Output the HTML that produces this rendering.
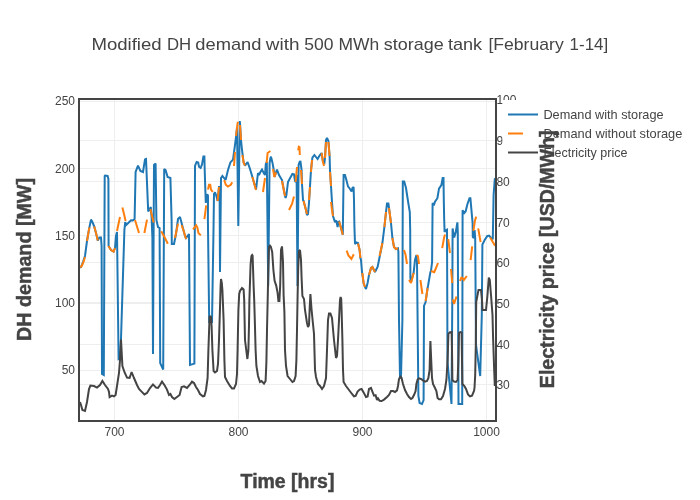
<!DOCTYPE html>
<html><head><meta charset="utf-8"><title>Chart</title>
<style>
html,body{margin:0;padding:0;background:#fff;width:700px;height:500px;overflow:hidden}
svg{display:block;will-change:transform}
text{font-family:"Liberation Sans",sans-serif;fill:#444}
.tick{font-size:12px}
.grid line{stroke:#eee;stroke-width:1;shape-rendering:crispEdges}
.axt{font-weight:bold;font-size:19.5px;stroke:#444;stroke-width:0.45px}
.leg{font-size:12.1px}
</style></head><body>
<svg width="700" height="500" viewBox="0 0 700 500">
<rect width="700" height="500" fill="#fff"/>
<defs><clipPath id="cp"><rect x="80" y="100" width="415" height="320"/></clipPath></defs>
<!-- gridlines -->
<g class="grid" id="grid">
<line x1="114.5" x2="114.5" y1="100" y2="420"/>
<line x1="238.5" x2="238.5" y1="100" y2="420"/>
<line x1="362.5" x2="362.5" y1="100" y2="420"/>
<line x1="486.5" x2="486.5" y1="100" y2="420"/>
<line x1="80" x2="496" y1="101.5" y2="101.5"/>
<line x1="80" x2="496" y1="168.5" y2="168.5"/>
<line x1="80" x2="496" y1="235.5" y2="235.5"/>
<line x1="80" x2="496" y1="302.5" y2="302.5"/>
<line x1="80" x2="496" y1="370.5" y2="370.5"/>
<line x1="80" x2="496" y1="140.5" y2="140.5"/>
<line x1="80" x2="496" y1="181.5" y2="181.5"/>
<line x1="80" x2="496" y1="222.5" y2="222.5"/>
<line x1="80" x2="496" y1="262.5" y2="262.5"/>
<line x1="80" x2="496" y1="303.5" y2="303.5"/>
<line x1="80" x2="496" y1="344.5" y2="344.5"/>
<line x1="80" x2="496" y1="384.5" y2="384.5"/>
</g>
<!-- traces -->
<g id="traces" fill="none" stroke-miterlimit="2" stroke-linecap="butt" clip-path="url(#cp)">
<path id="blue" stroke="#1f77b4" stroke-width="2" d="M80,267.5 L81,267 L83,262 L85,256 L87,241 L88.2,234 L89.4,227.4 L91,219.6 L92.4,222 L94.2,226.4 L96,233 L97.8,240.4 L99.4,237.6 L101,237.6 L101.6,246 L102,374 L103.8,375 L104.7,176 L105,175.6 L107.6,176 L108.4,179 L108.6,246 L111,250 L113.6,251.6 L115,248 L116,236 L117,232 L118.6,359 L120.4,358 L124.4,230 L125.2,222 L126.2,225 L128,223.2 L131,220.2 L132.8,220.4 L134.6,219 L135.6,172 L138,165.6 L140.4,171 L143,172 L145,159.4 L146,159 L148.2,211.5 L150.8,207 L151.6,218 L152.4,238 L153,354 L153.6,238 L154,165 L155.6,163.6 L156.4,220 L158,227 L159.6,228 L160.2,363 L163.2,369.6 L164.2,169 L165.6,170 L167.6,177 L170.4,178 L171.6,220 L171.8,244 L174,244 L176,234 L178,219 L180,217 L182.4,226 L185,236 L186,238 L189,234 L190,365 L194.4,363.6 L195,166 L196.6,162 L198.2,162.6 L199,166.8 L200.6,168 L202,164.4 L203.4,156.6 L204.4,156.6 L204.7,170 L205.4,192 L205.8,203 L206.6,195.6 L207.4,194.4 L208,196 L207.9,220 L209.2,322 L212,322 L213.5,230 L214,194 L215,192.4 L216.4,196 L217.6,201 L219,187 L219.6,187 L220,272 L221,178 L222.4,176 L225.6,180 L228,170 L230.4,162.4 L233,159.6 L235,145 L236,137 L237,128 L238.3,226 L239.8,121 L240.2,126 L241,140 L242,150 L243.6,162.4 L245,165.6 L247.6,162 L250,169 L252.4,177 L256,189.6 L258,173 L259,175 L260.4,172 L262,169.6 L264,173.6 L265,175 L265.8,164 L266.8,162 L268.2,286 L269.6,163 L270.4,158 L271,156.8 L272.4,162.4 L273.6,169 L274.6,177 L276,172.4 L277,169.6 L279,175 L282,180 L285,196 L285.6,198 L286.4,195 L288,182 L290.4,177.6 L292.4,174 L294,174.4 L295,181 L295.6,182 L296.6,175 L297.5,286 L298.6,165 L299.6,162 L300.4,161 L301.6,170 L302,184 L303,200 L303.6,201 L306,210 L307,215 L308,214 L309,203 L310,186 L311,170 L312.4,157.6 L314.4,155 L317.6,159 L319.6,155.6 L321.6,153 L323,162 L324.4,163 L325,158 L326,140 L327,138 L328.4,141 L329.6,156 L330,170 L331,186 L332,202 L333,216 L335,222.2 L336.2,220.4 L337.6,227 L338.4,222 L339.2,221.6 L341,228 L342.8,234.8 L343.6,175 L345,175 L346.4,180 L348,186.4 L350,189 L351.6,191.6 L352.4,188 L353.6,187 L354,200 L354.4,226 L355,244 L356.4,242.4 L358,243 L359.6,250 L360.4,258 L361,260 L362,272 L363.6,283 L365,287 L366,289 L367.6,283 L369,275 L371,268 L372.4,267 L375,272 L376,270 L377.6,267 L379,260 L382.4,243 L384.4,227 L386,212 L387,203.6 L388.4,203.6 L389,208 L391,223 L392.4,238 L394,247 L396,249 L398,248.4 L398.4,252 L399,320 L400,377.5 L401,377.5 L402.4,320 L402.8,181.4 L404.2,181.4 L406,188 L408.4,203.6 L409.8,212 L410.2,230 L410.4,278 L411,282 L413.6,273 L415,260 L416.4,255 L417,262 L418.4,396 L419.6,403 L422,404 L423.6,400 L424,306 L425.6,302 L427.6,288 L428,286 L430.4,272 L431,271 L432.1,262 L432.6,203 L433.8,205.4 L435,201.8 L437.4,198.2 L439,188.6 L441.4,185 L442.7,178 L443.5,178 L443.8,200 L444.2,220 L444.6,232 L445.8,230.2 L447,229.6 L447.5,362 L451.5,404 L452.3,300 L452.6,228.4 L454.2,237.4 L455.8,232 L457.4,222.4 L457.8,232 L458.5,404 L462.2,404 L462.6,210.2 L464.2,213 L465.6,211.4 L467.4,204.2 L469.5,198.2 L470.4,198.2 L471.4,209.6 L472.6,222.8 L472.8,236.8 L473.8,238 L474.6,230 L475.2,238 L476,345 L480.2,376 L481.8,315 L482.4,244.6 L484.8,239.8 L487.2,236.2 L489,235.6 L490.8,237.4 L492.8,239.2 L493.6,195 L494.8,179 L495.5,178.5"/>
<path id="orange" stroke="#ff7f0e" stroke-width="2" d="M80.3,267.5 L82,265.5 L83.5,262 L85,257 M87,241 L88.2,234 L89.4,227.4 M94.2,226.4 L96,233 L97.8,240.4 M108.4,246 L111,250 L113.6,251.6 L115,248 M117,231 L118.5,224 L120,217 M122.4,207.6 L124,214 L125.6,221 M135,220 L137,226.5 L139,233 M144.4,233 L147,219.6 M150.4,209 L153.6,222.4 M161.2,231.2 L164.6,237.2 L167.8,243.8 M175,238 L178,223.6 M181.6,225 L184,232 L186,239 M193,229.4 L196.2,225.4 L197.4,227.6 L198.4,233 L200.8,235.4 M204.4,219.2 L206.2,205.4 M208,189.6 L209,184.8 L210.2,184.8 L211,189.6 L212.8,192 M217.6,201 L219,187 M224.2,180 L225.8,184.8 L227.8,186.6 L230.8,184.8 L232.2,182.2 M234,166 L235,152 M236,136 L237.6,123 L238.4,122 M240,125 L241,140 M242.4,155 L243.6,162.4 L245,165.6 M252.4,177 L256,190 M263,192 L265,178 M266.6,163 L267.6,153 L270.4,151 M273,169 L274.4,177 L276,172.4 M282,181 L285,196 M289,210 L292,204 L294,196.4 M295.6,182 L297,167 M298.2,150.4 L298.8,146.8 L299.5,147.2 L299.8,155 M301,170 L302,184 M303.6,201 L307,214 M309,200 L310,187 M311,172 L312,160 M321.6,153 L323,162 L324,166 M325,158 L326,142 M328.4,142 L329.6,156 M330,172 L331,186 M331,201.8 L332,210 L333,216.2 M339.2,221.6 L341,228 L342.8,234.8 M346.6,250.6 L348.4,255.4 L351.4,259 L353.8,254.2 M358,243.6 L359.6,250 L360.4,258 M362.4,273 L363.6,283 L365,287 M369,275 L371,268 L372.4,267 L375,272 M379.6,256 L382.4,243 M384.4,227 L386,212 M389,208 L391,223 M392.4,238 L394,247 L396,249 L398,248.4 M404,250 L405.6,255 L407,264 M409,280 L411,283 L413.6,273 M416.4,255 L418,256 L419,264 M420.4,280 L422.4,294 M425.6,301 L427.6,288 M431,271 L434.2,272.2 L436,268 L438,263 M442.2,248.2 L444,238 L445,234.4 M448.2,239.2 L450,253 M451,269 L452.2,283 M452.8,299.5 L454,304 L456.5,296.5 M460,281 L461.5,277 L463.8,280 L466.8,276 M470.6,260.2 L472.2,246.4 M473.4,230.8 L475,220.4 L476.2,216.6 M478.2,228.4 L480.6,242.2 M490.2,237.4 L495,245.8"/>
<path id="price" stroke="#444" stroke-width="2" d="M80,402 L81,405 L82.4,410 L85,411 L87,402 L89,389 L90.4,385.6 L94,386 L97,387.6 L100,385 L102.4,381 L105,385 L108,389 L109,392 L109.6,397 L112,395.6 L114,396.4 L115.6,395 L117,386 L119,373 L120,360 L121,339.6 L122.4,366 L124.4,372 L127,377.6 L129.6,378 L131.6,372 L134,378 L137,385 L139,389 L141.6,391.6 L144.4,394.4 L147,393 L150,388 L153,384.4 L156,387.6 L158,388 L160,385 L162,381.6 L164.4,385 L167,389.6 L169,395 L170.4,394 L172,397 L174.4,399 L177,397 L179.6,395 L181.6,387 L184,386.4 L187,388 L189.6,385 L192,381.6 L194,383 L196,387 L198,390 L200,394 L203,396.4 L204.4,396 L206,390 L207.6,378 L208.4,350 L209.6,316 L211,317 L211.6,326 L212.4,350 L213.6,371 L215,372.4 L217,371 L218,364 L219,340 L220,308 L220.6,286 L221,279 L221.8,283 L222.4,290 L223.6,320 L224.4,360 L225,377 L227,381 L230,386 L232,388.4 L234,388.4 L236,384 L237,374 L237.6,350 L238.4,310 L239.2,294 L240,291 L242,288 L243.6,289.5 L244.2,300 L244.6,320 L245,340 L246,348 L247.4,359 L248.4,350 L249,325 L249.4,300 L250,282 L250.6,264 L251.4,256.2 L252.2,255 L252.6,255.6 L253.1,270 L253.6,285.6 L254.2,300 L254.8,320 L255.6,350 L256.4,366 L258,376 L260,382 L261.6,381 L264,383.6 L265.6,381 L266.4,362 L267,330 L267.8,295 L268.4,265 L269,247 L270,245.6 L270.8,246.6 L272.2,252 L273.4,270 L274.6,280.8 L276.2,285.6 L277.6,292.8 L278.4,301 L279.4,301 L280.2,285 L281,250 L282,246.4 L283,262 L283.6,295 L284.4,312 L285,350 L286,366 L287.6,376 L290,379 L292.4,382 L294,381 L295.6,376 L296.4,360 L297,330 L297.6,296 L298.2,268 L299,251 L300,250 L301,260 L301.6,278 L302.4,296 L304,299 L305,310 L307,323 L308,327 L309,325 L309.6,310 L310.4,294 L311.6,310 L313,324 L314,334 L315,370 L316,377 L318,384 L320,386 L322,389 L324,386 L326,378 L327,350 L328,320 L329,313.6 L330.4,313.6 L332,318 L334,340 L336,358 L337,356 L338,340 L339,320 L340,300 L340.6,297 L341.2,299 L341.6,310 L342.4,340 L343,370 L343.6,382 L346,386 L349,390 L352,394 L354,396.4 L355.6,396 L357.6,391.6 L359.6,389.6 L361.6,389 L363.6,392.4 L366,397 L367.6,396.4 L369,389 L371,388 L372.4,391.6 L374,395.6 L375.6,395.2 L377,400 L378,398.4 L379.6,400.8 L381.6,401 L384,399.6 L387,397 L389,395 L391,391 L393,391 L395,392 L397,390.4 L398,386 L399,379 L400.4,376.6 L401.6,378 L403,384 L405,390 L407,394 L409,397 L411,399 L412.4,398 L414,395 L415.6,391 L416.4,384 L417.6,379.6 L419,378.4 L421,379 L423,380.4 L425,381.6 L427,381 L428.4,378 L429.6,370 L430.4,341 L431.2,360 L432,378 L433,384 L435,388 L436.4,391 L437.6,398 L439,399.2 L441,399.2 L443,396 L445,389 L446.4,380 L447.6,360 L448.4,334 L449.6,332.4 L451.6,332 L452,350 L452.4,380 L454,381.6 L456,382 L457.6,380 L458.4,360 L459,333 L460.4,332 L461.6,332.4 L462,360 L462.4,384 L464.4,386 L466,389 L468,394.4 L470,396.4 L472,395.6 L474,391 L474.5,388 L475.2,375 L475.8,345 L476.2,302 L478.5,290 L481,290 L482,300 L482.5,310 L486,310 L487.5,295 L488.8,277.5 L489.8,280 L491,295 L492.5,315 L493,335 L494,365 L494.8,386"/>
</g>
<!-- frame -->
<rect x="79" y="99" width="417" height="322" fill="none" stroke="#444" stroke-width="2"/>
<!-- left ticks -->
<g class="tick" text-anchor="end">
<text x="75" y="105.3">250</text>
<text x="75" y="172.7">200</text>
<text x="75" y="239.9">150</text>
<text x="75" y="306.8">100</text>
<text x="75" y="374">50</text>
</g>
<!-- right ticks -->
<g class="tick" text-anchor="start">
<text x="496.4" y="104.2">100</text>
<text x="496.4" y="144.9">90</text>
<text x="496.4" y="185.8">80</text>
<text x="496.4" y="226.5">70</text>
<text x="496.4" y="267.2">60</text>
<text x="496.4" y="307.9">50</text>
<text x="496.4" y="348.6">40</text>
<text x="496.4" y="389.3">30</text>
</g>
<!-- x ticks -->
<g class="tick" text-anchor="middle">
<text x="114.5" y="436">700</text>
<text x="238.5" y="436">800</text>
<text x="362.5" y="436">900</text>
<text x="486.5" y="436">1000</text>
</g>
<!-- legend -->
<rect x="502.5" y="100" width="197.5" height="64" fill="#fff"/>
<g fill="none" stroke-width="2">
<path d="M508,114.5H538" stroke="#1f77b4"/>
<path d="M508,133.5H523" stroke="#ff7f0e"/>
<path d="M508,152.5H538" stroke="#444"/>
</g>
<g class="leg">
<text x="543.4" y="118.9" textLength="120.2" lengthAdjust="spacingAndGlyphs">Demand with storage</text>
<text x="543.4" y="137.9" textLength="139" lengthAdjust="spacingAndGlyphs">Demand without storage</text>
<text x="543.4" y="156.9" textLength="84" lengthAdjust="spacingAndGlyphs">Electricity price</text>
</g>
<!-- titles -->
<g font-size="17px">
<text x="91.4" y="50.4" textLength="70.3" lengthAdjust="spacingAndGlyphs">Modified</text>
<text x="167.0" y="50.4" textLength="24.2" lengthAdjust="spacingAndGlyphs">DH</text>
<text x="195.3" y="50.4" textLength="66.1" lengthAdjust="spacingAndGlyphs">demand</text>
<text x="265.8" y="50.4" textLength="33.7" lengthAdjust="spacingAndGlyphs">with</text>
<text x="304.3" y="50.4" textLength="29.2" lengthAdjust="spacingAndGlyphs">500</text>
<text x="338.5" y="50.4" textLength="40.7" lengthAdjust="spacingAndGlyphs">MWh</text>
<text x="383.8" y="50.4" textLength="59.9" lengthAdjust="spacingAndGlyphs">storage</text>
<text x="447.9" y="50.4" textLength="34.2" lengthAdjust="spacingAndGlyphs">tank</text>
<text x="488.4" y="50.4" textLength="75.3" lengthAdjust="spacingAndGlyphs">[February</text>
<text x="569.6" y="50.4" textLength="38.6" lengthAdjust="spacingAndGlyphs">1-14]</text>
</g>
<text class="axt" x="287.5" y="487.6" text-anchor="middle" textLength="93.8" lengthAdjust="spacingAndGlyphs">Time [hrs]</text>
<text class="axt" transform="translate(31,259.5) rotate(-90)" text-anchor="middle" textLength="163" lengthAdjust="spacingAndGlyphs">DH demand [MW]</text>
<text class="axt" transform="translate(553.5,259.3) rotate(-90)" text-anchor="middle" textLength="257.7" lengthAdjust="spacingAndGlyphs">Electricity price [USD/MWh]</text>
</svg>
</body></html>
